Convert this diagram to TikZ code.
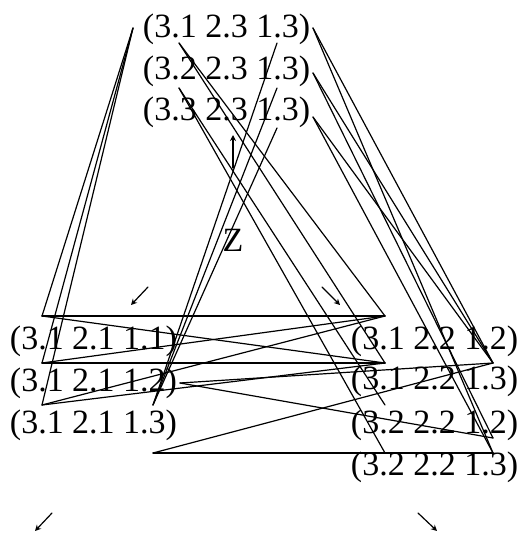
\documentclass[tikz,border=0pt]{standalone}
\usepackage{fontspec}
\setmainfont{Liberation Serif}
\usepackage{tikz}
\usetikzlibrary{arrows.meta}
\tikzset{
  tuple/.style={inner sep=0pt, font=\fontsize{34}{40}\selectfont},
  link/.style={line width=1.2pt},
  tick/.style={line width=1.2pt, -{Stealth[length=6pt, width=6pt]}}
}

\begin{document}
\begin{tikzpicture}[x=1pt, y=-1pt, line cap=round, line join=round]
  \useasboundingbox (0,0) rectangle (519,533);

  % Top group
  \node[tuple] (T1) at (226.5,29)  {(3.1 2.3 1.3)};
  \node[tuple] (T2) at (226.5,71)  {(3.2 2.3 1.3)};
  \node[tuple] (T3) at (226.5,112) {(3.3 2.3 1.3)};

  % Left group
  \node[tuple] (L1) at (93.5,341) {(3.1 2.1 1.1)};
  \node[tuple] (L2) at (93.5,383) {(3.1 2.1 1.2)};
  \node[tuple] (L3) at (93.5,425) {(3.1 2.1 1.3)};

  % Right group
  \node[tuple] (R1) at (434.5,341) {(3.1 2.2 1.2)};
  \node[tuple] (R2) at (434.5,381) {(3.1 2.2 1.3)};
  \node[tuple] (R3) at (434.5,425) {(3.2 2.2 1.2)};
  \node[tuple] (R4) at (434.5,467) {(3.2 2.2 1.3)};

  % Label in the middle
  \node[tuple] (Z) at (233,240) {Z};

  % Ends of the connectors
  \coordinate (A)  at (133,28);  % left of top row
  \coordinate (B1) at (179,43);
  \coordinate (B2) at (179,88);
  \coordinate (C1) at (277,43);
  \coordinate (C2) at (277,88);
  \coordinate (C3) at (277,128);
  \coordinate (D1) at (313,28);  % right of top rows
  \coordinate (D2) at (313,73);
  \coordinate (D3) at (313,117);
  \coordinate (E1) at (42,316);  % left group, left side
  \coordinate (E2) at (42,363);
  \coordinate (E3) at (42,405);
  \coordinate (F)  at (153,405);
  \coordinate (G)  at (180,383);
  \coordinate (H)  at (153,453);
  \coordinate (Q1) at (385,316); % right group, left side
  \coordinate (Q2) at (385,363);
  \coordinate (Q3) at (385,405);
  \coordinate (Q4) at (385,453);
  \coordinate (P1) at (493,363); % right group, right side
  \coordinate (P2) at (493,438);
  \coordinate (P3) at (493,453);

  % From the top row down to the left group
  \draw[link] (A) -- (E1);
  \draw[link] (A) -- (E2);
  \draw[link] (A) -- (E3);
  \draw[link] (C1) -- (F);
  \draw[link] (C2) -- (F);
  \draw[link] (C3) -- (F);

  % From the top rows down to the right group
  \draw[link] (B1) -- (Q1);
  \draw[link] (B1) -- (Q2);
  \draw[link] (B2) -- (Q3);
  \draw[link] (B2) -- (Q4);
  \draw[link] (D1) -- (P1);
  \draw[link] (D1) -- (P3);
  \draw[link] (D2) -- (P1);
  \draw[link] (D2) -- (P2);
  \draw[link] (D3) -- (P1);
  \draw[link] (D3) -- (P3);

  % Between the two lower groups
  \draw[link] (E1) -- (Q1);
  \draw[link] (E1) -- (Q2);
  \draw[link] (E2) -- (Q1);
  \draw[link] (E2) -- (Q2);
  \draw[link] (E3) -- (Q1);
  \draw[link] (E3) -- (Q2);
  \draw[link] (G) -- (P1);
  \draw[link] (G) -- (P2);
  \draw[link] (H) -- (P1);
  \draw[link] (H) -- (P3);

  % Small arrows
  \coordinate (up0) at (233,168);
  \coordinate (up1) at (233,135);
  \draw[tick] (up0) -- (up1);
  \coordinate (sw0) at (148,287);
  \coordinate (sw1) at (131,305);
  \draw[tick] (sw0) -- (sw1);
  \coordinate (se0) at (322,287);
  \coordinate (se1) at (340,305);
  \draw[tick] (se0) -- (se1);
  \coordinate (bl0) at (52,513);
  \coordinate (bl1) at (35,531);
  \draw[tick] (bl0) -- (bl1);
  \coordinate (br0) at (418,513);
  \coordinate (br1) at (437,531);
  \draw[tick] (br0) -- (br1);
\end{tikzpicture}
\end{document}
